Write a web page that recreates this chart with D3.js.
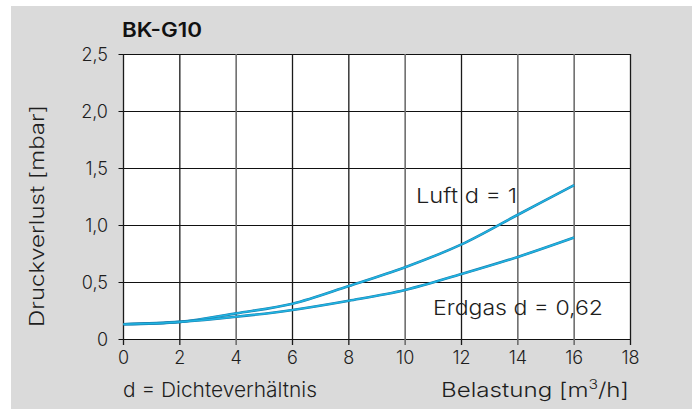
<!DOCTYPE html>
<html><head><meta charset="utf-8">
<script src="https://cdn.jsdelivr.net/npm/d3@7"></script>
<style>body{margin:0;background:#fff;} svg{display:block;font-family:Inter,"Noto Sans",sans-serif;}</style>
</head><body><svg id="c" width="693" height="409"></svg>
<script>
const xValues = [0, 2, 4, 6, 8, 10, 12, 14, 16];
const luft = [0.13, 0.15, 0.225, 0.31, 0.465, 0.63, 0.83, 1.09, 1.35];
const erdgas = [0.13, 0.15, 0.195, 0.255, 0.336, 0.43, 0.57, 0.72, 0.89];
const xTicks = [0, 2, 4, 6, 8, 10, 12, 14, 16, 18];
const yTicks = [0, 0.5, 1.0, 1.5, 2.0, 2.5];
const yTickLabels = ["0", "0,5", "1,0", "1,5", "2,0", "2,5"];
const grayX = [4, 10, 14, 16];

const svg = d3.select("#c");
svg.append("rect").attr("x", 11).attr("y", 6).attr("width", 681).attr("height", 403).attr("fill", "#dadada");

const x = d3.scaleLinear().domain([0, 18]).range([123.5, 630.5]);
const y = d3.scaleLinear().domain([0, 2.5]).range([339, 54]);

svg.append("rect").attr("x", x(0)).attr("y", y(2.5)).attr("width", x(18) - x(0)).attr("height", y(0) - y(2.5)).attr("fill", "#fff");

svg.selectAll(".hg").data(yTicks).join("line")
  .attr("x1", x(0) - 5).attr("x2", x(18))
  .attr("y1", d => Math.round(y(d)) + 0.5).attr("y2", d => Math.round(y(d)) + 0.5)
  .attr("stroke", "#111").attr("stroke-width", 1.2);
svg.selectAll(".vg").data(xTicks).join("line")
  .attr("x1", d => x(d)).attr("x2", d => x(d))
  .attr("y1", y(2.5)).attr("y2", y(0) + 6)
  .attr("stroke", d => grayX.includes(d) ? "#6e6e6e" : "#1a1a1a")
  .attr("stroke-width", d => grayX.includes(d) ? 1.6 : 1.3);

const tc = "#1e1e1e";
svg.selectAll(".yl").data(yTicks).join("text")
  .attr("x", 108).attr("y", d => y(d) + 6.5)
  .attr("text-anchor", "end").attr("font-size", 18).attr("font-weight", 300).attr("fill", tc)
  .text((d, i) => yTickLabels[i]);
svg.selectAll(".xl").data(xTicks).join("text")
  .attr("x", d => x(d)).attr("y", 364)
  .attr("text-anchor", "middle").attr("font-size", 18).attr("font-weight", 300).attr("fill", tc)
  .text(d => d);

const line = d3.line().x((d, i) => x(xValues[i])).y(d => y(d)).curve(d3.curveCatmullRom.alpha(0.5));
[luft, erdgas].forEach(s => {
  svg.append("path").attr("d", line(s)).attr("fill", "none").attr("stroke", "#1a7fae").attr("stroke-width", 2.6);
  svg.append("path").attr("d", line(s)).attr("fill", "none").attr("stroke", "#20b4e2").attr("stroke-width", 1.5);
});

function label(xp, yp, txt, len, size) {
  return svg.append("text").attr("x", xp).attr("y", yp).attr("font-size", size).attr("font-weight", 300)
    .attr("fill", tc).attr("textLength", len).attr("lengthAdjust", "spacingAndGlyphs").text(txt);
}
svg.append("text").attr("x", 122).attr("y", 37).attr("font-size", 20).attr("font-weight", 600).attr("fill", "#111")
  .attr("textLength", 80).attr("lengthAdjust", "spacingAndGlyphs").text("BK-G10");
svg.append("text").attr("transform", "translate(44,216) rotate(-90)").attr("text-anchor", "middle")
  .attr("font-size", 19.5).attr("font-weight", 300).attr("fill", tc)
  .attr("textLength", 222).attr("lengthAdjust", "spacingAndGlyphs").text("Druckverlust [mbar]");
label(416, 203, "Luft d = 1", 101, 20.5);
label(433, 315, "Erdgas d = 0,62", 170, 20.5);
label(123, 397, "d = Dichteverhältnis", 194, 20.5);
const bt = svg.append("text").attr("x", 441).attr("y", 397).attr("font-size", 20).attr("font-weight", 300).attr("fill", tc)
  .attr("textLength", 188).attr("lengthAdjust", "spacingAndGlyphs");
bt.append("tspan").text("Belastung [m");
bt.append("tspan").attr("font-size", 13).attr("dy", -8).text("3");
bt.append("tspan").attr("dy", 8).text("/h]");
</script></body></html>
